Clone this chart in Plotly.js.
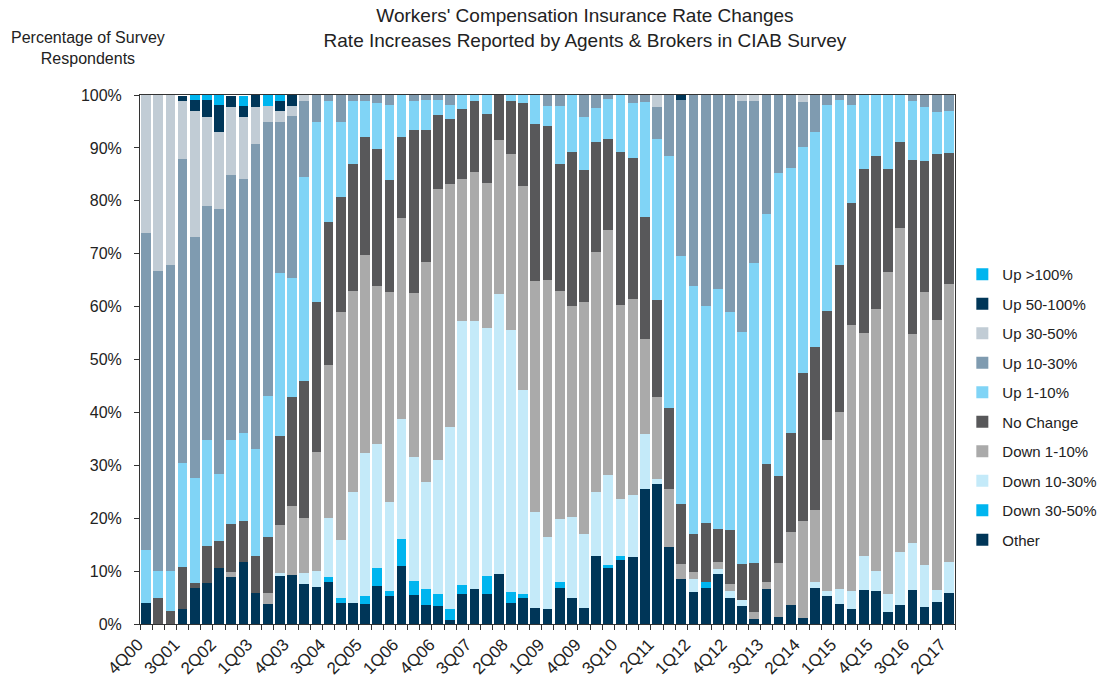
<!DOCTYPE html>
<html>
<head>
<meta charset="utf-8">
<script src="https://cdn.plot.ly/plotly-3.0.1.min.js"></script>
<style>html,body{margin:0;padding:0;background:#fff;}#chart{width:1110px;height:682px;}</style>
</head>
<body>
<div id="chart"></div>
<script>
const quarters = ['4Q00','1Q01','2Q01','3Q01','4Q01','1Q02','2Q02','3Q02','4Q02','1Q03','2Q03','3Q03','4Q03',
 '1Q04','2Q04','3Q04','4Q04','1Q05','2Q05','3Q05','4Q05','1Q06','2Q06','3Q06','4Q06','1Q07','2Q07','3Q07','4Q07',
 '1Q08','2Q08','3Q08','4Q08','1Q09','2Q09','3Q09','4Q09','1Q10','2Q10','3Q10','4Q10','1Q11','2Q11','3Q11','4Q11',
 '1Q12','2Q12','3Q12','4Q12','1Q13','2Q13','3Q13','4Q13','1Q14','2Q14','3Q14','4Q14','1Q15','2Q15','3Q15','4Q15',
 '1Q16','2Q16','3Q16','4Q16','1Q17','2Q17'];
const tickLabels = ['4Q00','3Q01','2Q02','1Q03','4Q03','3Q04','2Q05','1Q06','4Q06','3Q07','2Q08','1Q09','4Q09',
 '3Q10','2Q11','1Q12','4Q12','3Q13','2Q14','1Q15','4Q15','3Q16','2Q17'];

const other = [4,0,0,2.8,6.8,7.8,10.5,8.8,11.7,5.8,3.7,9,9.3,7.5,7,8,3.9,3.9,3.7,7.2,5.2,11,5.5,3.6,3.4,0.8,5.7,6.7,5.7,
 9.5,3.9,4.9,3.1,2.9,6.8,4.9,3,12.9,10.6,12.1,12.6,25.6,26.5,14.6,8.5,6,6.9,9.4,5,3.4,1,6.6,1.4,3.5,1.1,6.8,5.2,3.7,2.8,
 6.4,6.2,2.2,3.6,6.5,3.3,4.2,5.9];
const down30_50 = [0,0,0,0,0,0,0,0,0,0,0,0,0,0,0,0.9,1,0,1.5,3.4,1,5,2.7,3.1,2.3,2,1.6,0,3.4,
 0,2.1,0.8,0,0,1.2,0,0,0,0.5,0.8,0,0,0,0,0,0,1.1,0,0,0,0,0,0,0,0,0,0,0,0,
 0,0,0,0,0,0,0,0];
const down10_30 = [0,0,0,0,0,0,0,0,0,0,0,0.6,0,2.1,3,11.1,11,21.1,27.1,23.4,16.9,22.8,23.4,20.1,25.3,34.4,49.9,50.5,46.8,
 52.8,49.5,38.5,18.1,13.6,11.9,15.4,14,12.1,17.1,10.8,11.8,10.4,1,0,0,2.5,0,1,1.2,1.2,0,0,0,0,0,1.2,1,3,3.4,
 6.4,3.9,3.5,10.1,8.8,7.8,2.2,5.9];
const down1_10 = [0,0,0,0,0,0,0,1.1,0,0,2.1,9.2,13.1,10.5,22.5,28.9,43.1,38,37.5,29.9,39.7,37.9,31,41.7,51.2,45.9,27,28.2,27.5,
 29.1,33.3,38.6,43.7,48.5,43.1,39.8,43.9,45.3,46.2,36.6,37,17.8,15.4,11,2.9,1.3,0,1.3,1.3,0,1.2,1.4,10.2,13.8,18.4,13.6,28.6,33.4,50.3,
 42.2,49.4,60.9,61.2,39.6,51.7,51,52.5];
const noChange = [0,5,2.4,7.9,1,6.9,5.1,9,7.7,7.1,10.7,16.7,20.5,25.9,28.3,27,21.8,23.9,22.3,25.9,21.1,15.4,30.8,24.9,14.1,12.4,13.2,13.4,13.1,
 8.6,10,15.7,29.7,29.1,23.9,29.1,25,20.8,17.3,29,26.6,23.1,18.3,15.2,11.2,7.2,11.1,6.3,10.2,6.8,9.3,22.3,16.4,18.9,28,30.7,24.3,27.7,23,
 31,29,19.4,16.2,32.9,24.7,31.5,24.7];
const up1_10 = [10,5,7.6,19.8,19.8,20,12.8,15.9,16.7,20.1,26.6,30.9,22.5,38.5,34.1,22.9,14.1,11.9,6.7,8.7,14.3,7.9,5.4,5.6,2.7,2.7,2.6,1.2,3.5,
 0,1.2,1.5,5.4,3.9,11.1,10.8,10,6.5,7.6,10.7,10.4,21.8,30.5,47.7,47,46.9,41,45.4,41.3,43.8,56.8,47.2,57.2,50,42.7,40.8,39.1,31.3,18.7,
 14,11.5,14,8.9,11,10.2,7.8,8];
const up10_30 = [60,56.8,57.9,57.4,45.5,44.3,50.1,50,48,57.8,51.8,28.5,30.7,14.3,5.1,1.2,5.1,1.2,1.2,1.5,1.8,0,1.2,1,1,1.8,0,0,0,
 0,0,0,0,2,2,0,4.1,2.4,0.7,0,1.6,1.3,6,11.5,29.5,36.1,39.9,36.6,41,43.6,30.5,22.5,14.8,13.8,8.4,6.9,1.8,0.9,1.8,
 0,0,0,0,1.2,2.3,3.3,3];
const up30_50 = [26,33.2,32.1,11,23.9,16.9,14.6,12.9,11.7,7,3.1,2,1.9,1.2,0,0,0,0,0,0,0,0,0,0,0,0,0,0,0,
 0,0,0,0,0,0,0,0,0,0,0,0,0,2.3,0,0,0,0,0,0,1.2,1.2,0,0,0,1.4,0,0,0,0,
 0,0,0,0,0,0,0,0];
const up50_100 = [0,0,0,1,2,3.1,5,2.2,2.1,2.2,0,1.9,2,0,0,0,0,0,0,0,0,0,0,0,0,0,0,0,0,
 0,0,0,0,0,0,0,0,0,0,0,0,0,0,0,0.9,0,0,0,0,0,0,0,0,0,0,0,0,0,0,
 0,0,0,0,0,0,0,0];
const up100 = [0,0,0,0,1,1,2,0,2,0,2,1.2,0,0,0,0,0,0,0,0,0,0,0,0,0,0,0,0,0,
 0,0,0,0,0,0,0,0,0,0,0,0,0,0,0,0,0,0,0,0,0,0,0,0,0,0,0,0,0,0,
 0,0,0,0,0,0,0,0];

const seriesNames = ['Other','Down 30-50%','Down 10-30%','Down 1-10%','No Change','Up 1-10%','Up 10-30%','Up 30-50%','Up 50-100%','Up >100%'];
const seriesValues = [other, down30_50, down10_30, down1_10, noChange, up1_10, up10_30, up30_50, up50_100, up100];
const seriesColors = ['#003658','#00b5ef','#c4eaf9','#aaaaaa','#58585a','#80d4f6','#7f9bb0','#c1ccd5','#003658','#00b5ef'];

const traces = seriesNames.map((name, i) => ({
  type: 'bar',
  name: name,
  x: quarters,
  y: seriesValues[i],
  marker: {color: seriesColors[i], line: {width: 0}},
  legendgroup: 'g' + i,
  legendrank: 100 - i,
  hoverinfo: 'x+y+name'
}));

const ticktext = quarters.map(q => tickLabels.includes(q) ? q : '');

const layout = {
  width: 1110, height: 682,
  margin: {l: 140, r: 155, t: 95, b: 58, autoexpand: false},
  barmode: 'stack',
  bargap: 0.2,
  paper_bgcolor: '#ffffff',
  plot_bgcolor: '#ffffff',
  font: {family: 'Liberation Sans, Arial, sans-serif', color: '#222', size: 15},
  title: {
    text: "Workers' Compensation Insurance Rate Changes<br>Rate Increases Reported by Agents & Brokers in CIAB Survey",
    x: 0.527, xanchor: 'center', y: 0.968, yanchor: 'top',
    font: {size: 19, color: '#222'}
  },
  xaxis: {
    type: 'category',
    tickvals: quarters,
    ticktext: ticktext,
    tickson: 'boundaries',
    ticks: 'outside', ticklen: 5, tickcolor: '#333',
    tickangle: -45,
    ticklabelshift: -8,
    ticklabelstandoff: 3,
    tickfont: {size: 17},
    showline: true, linecolor: '#333', mirror: true,
    showgrid: false
  },
  yaxis: {
    range: [0, 100],
    dtick: 10, tick0: 0,
    ticksuffix: '%',
    ticks: 'outside', ticklen: 5, tickcolor: '#333',
    ticklabelstandoff: 9,
    tickfont: {size: 16},
    showline: true, linecolor: '#333', mirror: true,
    showgrid: false, zeroline: false
  },
  legend: {
    x: 1.009, xanchor: 'left', y: 0.692, yanchor: 'top',
    traceorder: 'grouped',
    tracegroupgap: 7,
    itemwidth: 30,
    font: {size: 15, color: '#222'},
    bgcolor: 'rgba(0,0,0,0)'
  },
  annotations: [{
    text: 'Percentage of Survey<br>Respondents',
    xref: 'paper', yref: 'paper',
    x: -0.064, y: 1.089, xanchor: 'center', yanchor: 'middle',
    showarrow: false,
    font: {size: 16, color: '#222'}
  }]
};

Plotly.newPlot('chart', traces, layout, {displayModeBar: false, staticPlot: true});
</script>
</body>
</html>
